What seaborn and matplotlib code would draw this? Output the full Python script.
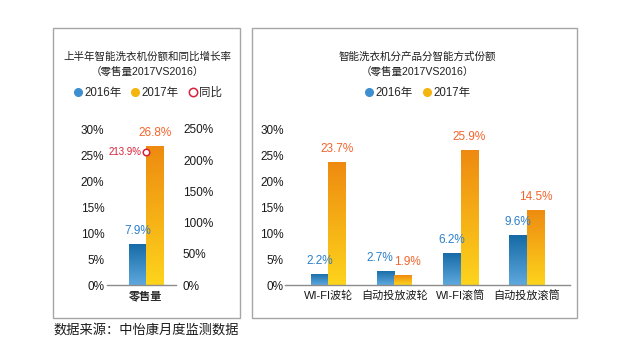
import numpy as np
import pandas as pd
import matplotlib
matplotlib.use("Agg")
import matplotlib.pyplot as plt
from matplotlib.colors import LinearSegmentedColormap
from matplotlib.lines import Line2D
from matplotlib.patches import Rectangle
import seaborn as sns

# data
years = ["2016年", "2017年"]
left_cat = ["零售量"]
left_2016 = [7.9]
left_2017 = [26.8]
yoy = [213.9]

right_cat = ["WI-FI波轮", "自动投放波轮", "WI-FI滚筒", "自动投放滚筒"]
right_2016 = [2.2, 2.7, 6.2, 9.6]
right_2017 = [23.7, 1.9, 25.9, 14.5]

left_ticks = [0, 5, 10, 15, 20, 25, 30]
right_ticks = [0, 50, 100, 150, 200, 250]

sns.set_style("white")
plt.rcParams["font.family"] = ["Liberation Sans", "Noto Sans CJK SC", "DejaVu Sans"]

blue_cmap = LinearSegmentedColormap.from_list("b", ["#5ea8de", "#156aa5"])
orange_cmap = LinearSegmentedColormap.from_list("o", ["#fdd41c", "#ee8a10"])
blue_txt = "#2b7fcb"
orange_txt = "#f2642c"
red = "#d8203a"

W, H = 620, 358
fig = plt.figure(figsize=(6.2, 3.58), dpi=100)

def fx(px):
    return px / W

def fy(py):
    return 1 - py / H

# panel boxes
for x0, x1 in [(53, 240), (252, 577)]:
    fig.patches.append(Rectangle((fx(x0), fy(318)), fx(x1 - x0), (318 - 28) / H,
                                 transform=fig.transFigure, fill=False,
                                 edgecolor="#a6a6a6", linewidth=1.0))


def gradient_bars(ax, ymax):
    grad = np.linspace(0, 1, 256).reshape(-1, 1)
    xl = ax.get_xlim()
    for cont, cmap in zip(ax.containers, [blue_cmap, orange_cmap]):
        for bar in cont:
            x0 = bar.get_x()
            w = bar.get_width()
            h = bar.get_height()
            im = ax.imshow(grad, extent=[x0, x0 + w, 0, h], origin="lower",
                           aspect="auto", cmap=cmap, zorder=2)
            im.set_clip_path(bar)
            bar.set_facecolor("none")
            bar.set_edgecolor("none")
    ax.set_xlim(xl)
    ax.set_ylim(0, ymax)


def value_labels(ax, offset=5, nudge=None):
    for k, (cont, col) in enumerate(zip(ax.containers, [blue_txt, orange_txt])):
        for i, bar in enumerate(cont):
            dx = 0
            if nudge is not None and i in nudge:
                dx = nudge[i][k]
            ax.annotate(f"{bar.get_height():.1f}%",
                        (bar.get_x() + bar.get_width() / 2, bar.get_height()),
                        xytext=(dx, offset), textcoords="offset points",
                        ha="center", va="bottom", color=col, fontsize=8.5)


def style_axis(ax):
    for s in ["top", "right", "left"]:
        ax.spines[s].set_visible(False)
    ax.spines["bottom"].set_color("#8c8c8c")
    ax.spines["bottom"].set_linewidth(1.0)
    ax.tick_params(length=0)
    ax.set_xlabel("")
    ax.set_ylabel("")


# ---------- left panel ----------
axL = fig.add_axes([fx(107), fy(285), fx(69), 156 / H])
dfL = pd.DataFrame({"cat": left_cat * 2,
                    "val": left_2016 + left_2017,
                    "year": [years[0]] * len(left_cat) + [years[1]] * len(left_cat)})
sns.barplot(data=dfL, x="cat", y="val", hue="year", ax=axL, width=0.5,
            palette=["#3d8fd0", "#f5b50f"], legend=False, saturation=1)
axL.set_xlim(-0.565, 0.435)
gradient_bars(axL, 30)
value_labels(axL)
style_axis(axL)
axL.set_yticks(left_ticks)
axL.set_yticklabels([f"{t}%" for t in left_ticks], fontsize=8.5, color="#1a1a1a")
axL.tick_params(axis="y", pad=2)
axL.tick_params(axis="x", pad=4, labelsize=8)
for lab in axL.get_xticklabels():
    lab.set_fontweight("bold")

axR2 = axL.twinx()
dfY = pd.DataFrame({"cat": left_cat, "yoy": yoy})
sns.scatterplot(data=dfY, x="cat", y="yoy", ax=axR2, marker="o", s=22,
                facecolor="white", edgecolor=red, linewidth=1.1, zorder=5)
axR2.set_ylim(0, 250)
axR2.set_yticks(right_ticks)
axR2.set_yticklabels([f"{t}%" for t in right_ticks], fontsize=8.5, color="#1a1a1a")
for s in ["top", "right", "left", "bottom"]:
    axR2.spines[s].set_visible(False)
axR2.tick_params(length=0, pad=5)
axR2.set_ylabel("")
axR2.set_xlabel("")
for v in yoy:
    axR2.annotate(f"{v:.1f}%", (0, v), xytext=(-3, 0), textcoords="offset points",
                  ha="right", va="center", color=red, fontsize=7)

fig.text(fx(147), fy(57), "上半年智能洗衣机份额和同比增长率", ha="center", va="center",
         fontsize=7.6, color="#1f1f1f")
fig.text(fx(147), fy(71), "（零售量2017VS2016）", ha="center", va="center",
         fontsize=7.6, color="#1f1f1f")

hL = [Line2D([], [], marker="o", ls="", markersize=5.5, markerfacecolor="#3d8fd0",
             markeredgecolor="#3d8fd0"),
      Line2D([], [], marker="o", ls="", markersize=5.5, markerfacecolor="#f5b50f",
             markeredgecolor="#f5b50f"),
      Line2D([], [], marker="o", ls="", markersize=6, markerfacecolor="white",
             markeredgecolor=red, markeredgewidth=1.1)]
fig.legend(hL, years + ["同比"], loc="center", bbox_to_anchor=(fx(147), fy(93)),
           ncol=3, frameon=False, fontsize=8.3, handletextpad=0.05,
           columnspacing=0.7, handlelength=1.0)

# ---------- right panel ----------
axB = fig.add_axes([fx(285), fy(285), fx(285), 156 / H])
dfR = pd.DataFrame({"cat": right_cat * 2,
                    "val": right_2016 + right_2017,
                    "year": [years[0]] * len(right_cat) + [years[1]] * len(right_cat)})
sns.barplot(data=dfR, x="cat", y="val", hue="year", ax=axB, width=0.53,
            palette=["#3d8fd0", "#f5b50f"], legend=False, saturation=1)
axB.set_xlim(-0.65, 3.65)
gradient_bars(axB, 30)
value_labels(axB, nudge={1: (-4, 3)})
style_axis(axB)
axB.set_yticks(left_ticks)
axB.set_yticklabels([f"{t}%" for t in left_ticks], fontsize=8.5, color="#1a1a1a")
axB.tick_params(axis="y", pad=1)
axB.tick_params(axis="x", pad=4, labelsize=8, labelcolor="#1a1a1a")

fig.text(fx(417), fy(57), "智能洗衣机分产品分智能方式份额", ha="center", va="center",
         fontsize=7.6, color="#1f1f1f")
fig.text(fx(417), fy(71), "（零售量2017VS2016）", ha="center", va="center",
         fontsize=7.6, color="#1f1f1f")
fig.legend(hL[:2], years, loc="center", bbox_to_anchor=(fx(417), fy(93)),
           ncol=2, frameon=False, fontsize=8.3, handletextpad=0.05,
           columnspacing=0.7, handlelength=1.0)

fig.text(fx(53), fy(330), "数据来源：中怡康月度监测数据", ha="left", va="center",
         fontsize=9.5, color="#1a1a1a")

fig.savefig("out.png", dpi=100, facecolor="white")
